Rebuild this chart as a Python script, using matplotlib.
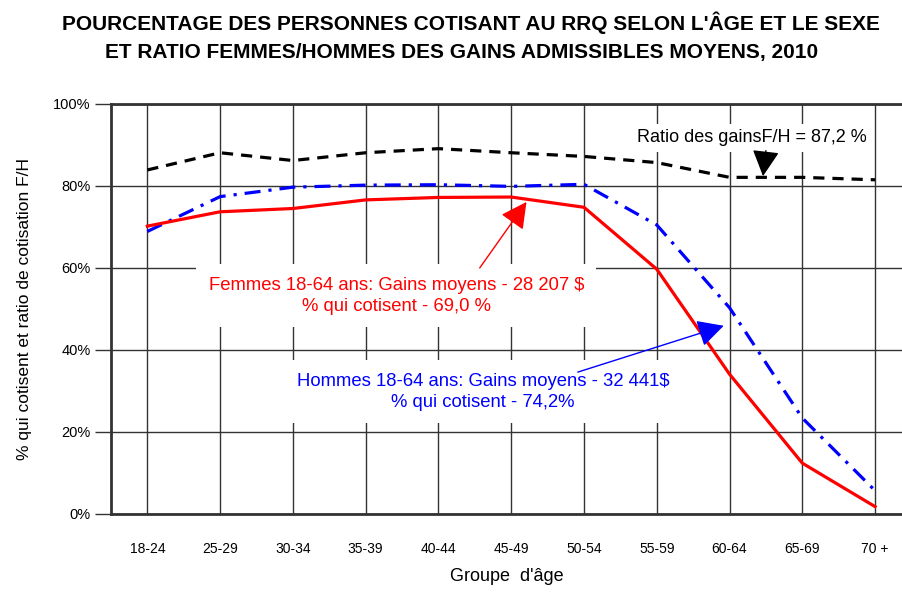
import numpy as np
import matplotlib.pyplot as plt

groupes = ['18-24', '25-29', '30-34', '35-39', '40-44', '45-49', '50-54',
           '55-59', '60-64', '65-69', '70 +']
ratio_fh = [83.9, 88.1, 86.2, 88.1, 89.1, 88.1, 87.2, 85.7, 82.1, 82.1, 81.5]
hommes = [68.9, 77.4, 79.7, 80.2, 80.3, 79.9, 80.4, 70.5, 50.3, 23.4, 5.7]
femmes = [70.2, 73.7, 74.5, 76.6, 77.2, 77.3, 74.8, 59.7, 34.1, 12.4, 1.8]
yticks = [0, 20, 40, 60, 80, 100]

plt.rcParams['font.family'] = ['Liberation Sans', 'DejaVu Sans']

x = np.arange(len(groupes))

fig = plt.figure(figsize=(9.02, 5.94), dpi=100)
ax = fig.add_axes([0.123, 0.1347, 0.877, 0.6903])

ax.plot(x, ratio_fh, color='black', lw=2.3, dashes=(3.5, 2.5), zorder=5)
ax.plot(x, hommes, color='blue', lw=2.3, dashes=(5, 2.5, 1, 2.5), zorder=5)
ax.plot(x, femmes, color='red', lw=2.3, zorder=6)

ax.set_xlim(-0.5, 10.37)
ax.set_ylim(0, 100)
ax.set_xticks(x)
ax.set_xticklabels(groupes, fontsize=10)
ax.set_yticks(yticks)
ax.set_yticklabels([str(v) + '%' for v in yticks], fontsize=10.5)
ax.tick_params(axis='x', length=0, pad=20)
ax.tick_params(axis='y', length=11.5, width=1, color='#333333', pad=3)
ax.grid(True, color='#333333', lw=1, zorder=0)
ax.set_axisbelow(True)

for s in ['top', 'bottom', 'left']:
    ax.spines[s].set_linewidth(2)
    ax.spines[s].set_color('#333333')
ax.spines['right'].set_visible(False)

ax.set_xlabel("Groupe  d'âge", fontsize=13, labelpad=9)
ax.set_ylabel('% qui cotisent et ratio de cotisation F/H', fontsize=12.5, labelpad=15)

fig.text(0.522, 0.962, "POURCENTAGE DES PERSONNES COTISANT AU RRQ SELON L'ÂGE ET LE SEXE",
         ha='center', va='center', fontsize=15, fontweight='bold')
fig.text(0.512, 0.912, "ET RATIO FEMMES/HOMMES DES GAINS ADMISSIBLES MOYENS, 2010",
         ha='center', va='center', fontsize=15, fontweight='bold')

box = dict(facecolor='white', edgecolor='none', pad=9)

ax.text(3.42, 53.2, 'Femmes 18-64 ans: Gains moyens - 28 207 $\n% qui cotisent - 69,0 %',
        ha='center', va='center', color='red', fontsize=13.3, linespacing=1.3,
        bbox=box, zorder=4)
ax.text(4.61, 29.8, 'Hommes 18-64 ans: Gains moyens - 32 441$\n% qui cotisent - 74,2%',
        ha='center', va='center', color='blue', fontsize=13.3, linespacing=1.3,
        bbox=box, zorder=4)
ax.text(8.31, 91.7, 'Ratio des gainsF/H = 87,2 %',
        ha='center', va='center', color='black', fontsize=13,
        bbox=dict(facecolor='white', edgecolor='none', pad=4), zorder=4)

# flèches
fleches = [((5.21, 76.1), (4.567, 60.0), 'red'),
           ((7.92, 45.9), (5.915, 34.6), 'blue'),
           ((8.46, 82.4), (8.50, 88.6), 'black')]
for tip, tail, c in fleches:
    ax.annotate('', xy=tip, xytext=tail, zorder=7,
                arrowprops=dict(arrowstyle='-|>,head_length=1.15,head_width=0.6',
                                color=c, lw=1, mutation_scale=14,
                                shrinkA=0, shrinkB=0))

fig.savefig('out.png', dpi=100)
